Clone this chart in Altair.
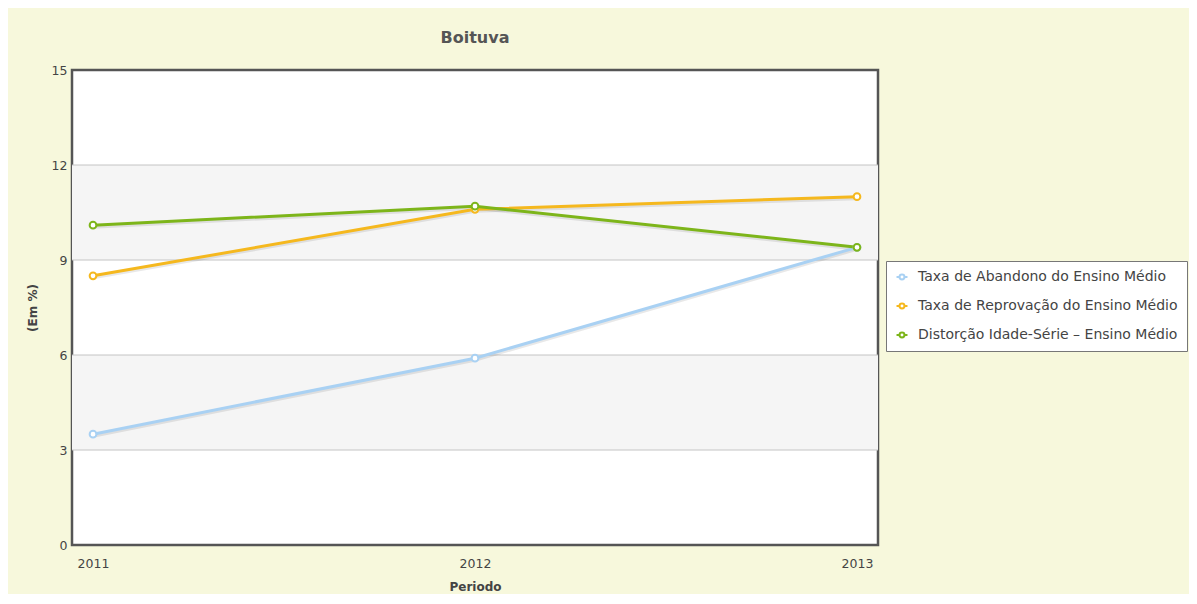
import altair as alt
import pandas as pd

years = [2011, 2012, 2013]
series_names = [
    "Taxa de Abandono do Ensino Médio",
    "Taxa de Reprovação do Ensino Médio",
    "Distorção Idade-Série – Ensino Médio",
]
abandono = [3.5, 5.9, 9.4]
reprovacao = [8.5, 10.6, 11.0]
distorcao = [10.1, 10.7, 9.4]
colors = ["#A9D1F3", "#F5B81E", "#7DB51A"]
y_ticks = [0, 3, 6, 9, 12, 15]
band_starts = [3, 9]
band_ends = [6, 12]

rows = []
for name, vals in zip(series_names, [abandono, reprovacao, distorcao]):
    for yr, v in zip(years, vals):
        rows.append({"Ano": str(yr), "Valor": v, "Serie": name})
df = pd.DataFrame(rows)
bands = pd.DataFrame({"y0": band_starts, "y1": band_ends})

W, H = 806, 475
FONT = "DejaVu Sans"

x_axis = alt.Axis(
    title="Periodo", grid=False, ticks=False, domain=False, labelAngle=0,
    labelFontSize=12.5, labelColor="#444", labelFont=FONT, labelPadding=12,
    labelOverlap=False,
    titleFont=FONT, titleFontSize=12, titleFontWeight="bold", titleColor="#444",
    titleX=W / 2, titleY=41, titleBaseline="middle",
)
y_axis = alt.Axis(
    values=y_ticks, title="(Em %)", grid=False,
    ticks=False, domain=False, labelFontSize=12.5, labelColor="#444", labelFont=FONT,
    labelPadding=5, labelFlush=False, labelOverlap=False,
    titleFont=FONT, titleFontSize=12, titleFontWeight="bold",
    titleColor="#444", titleX=-40, titleY=H / 2, titleBaseline="middle",
)
x_scale = alt.Scale(type="point", domain=[str(y) for y in years], padding=0.055)
y_scale = alt.Scale(domain=[0, 15], nice=False)
color_scale = alt.Scale(domain=series_names, range=colors)

band_layer = alt.Chart(bands).mark_rect(color="#F5F5F5").encode(
    x=alt.value(0), x2=alt.value(W),
    y=alt.Y("y0:Q", scale=y_scale, axis=y_axis), y2="y1:Q",
)

grid_layer = alt.Chart(pd.DataFrame({"g": [3, 6, 9, 12]})).mark_rule(color="#c4c4c4", strokeWidth=1).encode(
    y=alt.Y("g:Q", scale=y_scale, axis=y_axis),
)

shadow = alt.Chart(df).mark_line(strokeWidth=3, color="black", opacity=0.09, yOffset=2).encode(
    x=alt.X("Ano:O", scale=x_scale, axis=x_axis),
    y=alt.Y("Valor:Q", scale=y_scale, axis=y_axis),
    detail="Serie:N",
)

lines = alt.Chart(df).mark_line(strokeWidth=3).encode(
    x=alt.X("Ano:O", scale=x_scale, axis=x_axis),
    y=alt.Y("Valor:Q", scale=y_scale, axis=y_axis),
    color=alt.Color(
        "Serie:N", scale=color_scale, title=None,
        legend=alt.Legend(
            orient="none", legendX=814, legendY=191, fillColor="white",
            strokeColor="#777", padding=9, rowPadding=15, labelFontSize=14,
            labelFont=FONT, labelColor="#444", labelOffset=9, labelLimit=400,
            symbolType="M-1,0H-0.45M0.45,0H1M-0.45,0A0.45,0.45 0 1,0 0.45,0A0.45,0.45 0 1,0 -0.45,0",
            symbolSize=120, symbolStrokeWidth=2, symbolFillColor="white",
        ),
    ),
)

points = alt.Chart(df).mark_point(filled=True, fill="white", size=45, strokeWidth=2, opacity=1).encode(
    x=alt.X("Ano:O", scale=x_scale, axis=x_axis),
    y=alt.Y("Valor:Q", scale=y_scale, axis=y_axis),
    stroke=alt.Stroke("Serie:N", scale=color_scale, legend=None),
)

chart = alt.layer(band_layer, grid_layer, shadow, lines, points).resolve_scale(
    color="shared"
).properties(
    width=W, height=H,
    padding={"left": 64, "top": 62, "right": 311, "bottom": 49},
    autosize=alt.AutoSizeParams(type="none"),
    background="#F7F8DC",
    title=alt.TitleParams("Boituva", anchor="middle", fontSize=16, fontWeight="bold",
                          color="#555", font=FONT, offset=18),
).configure_view(stroke="#555", strokeWidth=2.5, fill="white")

chart.save("out.html", embed_options={"renderer": "svg", "actions": False})
